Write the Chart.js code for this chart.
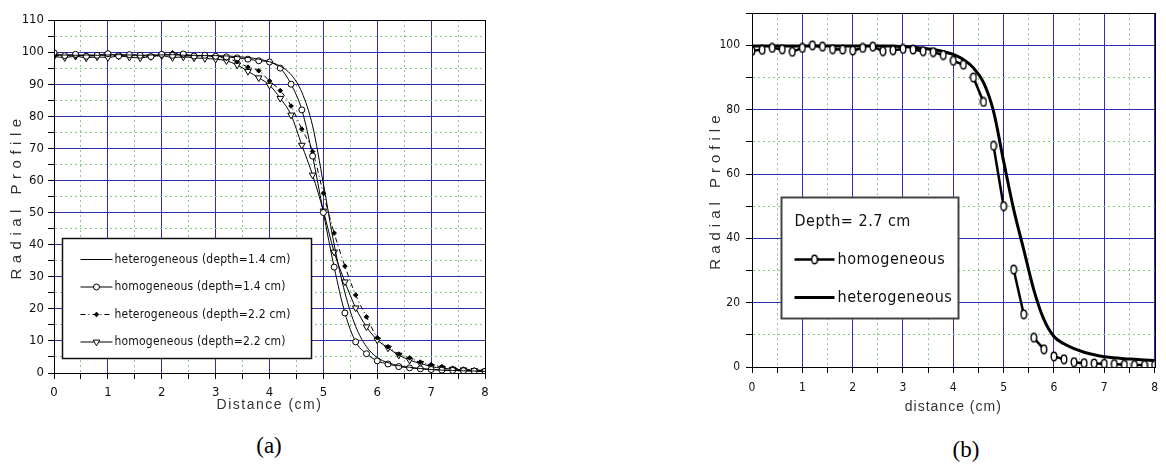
<!DOCTYPE html>
<html>
<head>
<meta charset="utf-8">
<script src="https://cdn.jsdelivr.net/npm/chart.js@4.4.1/dist/chart.umd.min.js"></script>
<style>
  html, body { margin: 0; padding: 0; background: #fff; }
  body { width: 1166px; height: 468px; position: relative; overflow: hidden; }
  .panel { position: absolute; top: 0; height: 420px; }
  #panelA { left: 0; width: 500px; }
  #panelB { left: 600px; width: 566px; }
  .caption {
    position: absolute; transform: translate(-50%, -50%);
    font-family: 'Liberation Serif', 'Times New Roman', serif; font-size: 23px; color: #000;
  }
</style>
</head>
<body>
<div class="panel" id="panelA"><canvas id="chartA"></canvas></div>
<div class="panel" id="panelB"><canvas id="chartB"></canvas></div>
<div class="caption" style="left:269px; top:446px">(a)</div>
<div class="caption" style="left:966px; top:450px">(b)</div>

<script>
/* ---------- data ---------- */

// distance (cm), sampling positions shared by every curve
const distance = [0, 0.2, 0.4, 0.6, 0.8, 1, 1.2, 1.4, 1.6, 1.8, 2, 2.2, 2.4, 2.6, 2.8, 3,
    3.2, 3.4, 3.6, 3.8, 4, 4.2, 4.4, 4.6, 4.8, 5, 5.2, 5.4, 5.6, 5.8, 6, 6.2, 6.4, 6.6, 6.8,
    7, 7.2, 7.4, 7.6, 7.8, 8];

// panel (a)
const labelsA = [
    'heterogeneous (depth=1.4 cm)',
    'homogeneous (depth=1.4 cm)',
    'heterogeneous (depth=2.2 cm)',
    'homogeneous (depth=2.2 cm)'
];
const hetero14 = [99.0, 99.1, 99.0, 99.1, 99.0, 99.1, 99.2, 99.1, 99.0, 99.1, 99.1, 99.2, 99.0, 99.0, 98.9, 98.9,
    98.8, 98.6, 98.3, 97.8, 97.0, 95.6, 93.0, 87.5, 77.0, 59.0, 40.0, 25.0, 14.5, 8.2, 4.8, 3.2, 2.3, 1.8, 1.4,
    1.1, 0.9, 0.8, 0.7, 0.6, 0.5];
const homo14 = [99.8, 98.9, 99.3, 98.7, 99.0, 99.5, 98.8, 99.2, 99.0, 98.6, 99.3, 99.0, 99.4, 98.8, 99.0, 98.7,
    98.5, 98.2, 97.8, 97.3, 96.9, 95.0, 90.0, 82.0, 67.6, 50.0, 33.0, 18.7, 9.7, 6.0, 3.8, 2.8, 2.0, 1.6, 1.3,
    1.1, 0.9, 0.8, 0.7, 0.6, 0.5];
const hetero22 = [98.8, 99.0, 98.7, 99.1, 98.9, 99.2, 98.8, 99.0, 99.1, 98.7, 99.0, 99.8, 98.9, 98.8, 98.9, 98.5,
    98.0, 97.0, 95.3, 94.2, 91.0, 88.0, 83.2, 76.0, 69.0, 56.0, 43.6, 33.3, 24.3, 17.5, 11.0, 8.2, 5.9, 4.7, 3.4,
    2.6, 2.0, 1.5, 1.2, 1.0, 0.8];
const homo22 = [98.6, 98.3, 98.7, 98.2, 98.5, 98.3, 98.8, 98.4, 98.2, 98.6, 98.9, 98.3, 98.5, 98.2, 98.0, 97.8,
    97.3, 96.0, 94.0, 92.0, 89.7, 85.6, 80.4, 71.0, 61.7, 50.5, 37.7, 28.4, 20.3, 14.4, 10.3, 7.8, 5.6, 4.0, 3.0,
    2.0, 1.5, 1.2, 1.0, 0.8, 0.6];

// panel (b)
const depthB = 'Depth= 2.7 cm';
const labelsB = ['homogeneous', 'heterogeneous'];
const homo27 = [98.3, 98.6, 99.2, 98.8, 98.0, 99.2, 100.0, 99.6, 98.8, 98.7, 98.4, 99.2, 99.6, 98.2, 98.5, 98.9,
    98.7, 98.2, 97.9, 97.0, 95.2, 94.0, 90.0, 82.4, 68.8, 50.0, 30.3, 16.4, 9.1, 5.5, 3.3, 2.4, 1.5, 1.2, 1.1,
    1.0, 0.9, 0.7, 0.6, 0.6, 0.6];
const hetero27 = [99.8, 99.8, 99.8, 99.8, 99.8, 99.8, 99.8, 99.8, 99.8, 99.8, 99.8, 99.8, 99.8, 99.8, 99.8,
    99.6, 99.4, 99.1, 98.7, 98.1, 97.2, 95.6, 93.0, 88.5, 79.5, 64.0, 49.0, 36.5, 24.0, 14.8, 9.5, 7.2, 5.7,
    4.6, 3.8, 3.2, 2.9, 2.6, 2.4, 2.2, 2.0];

/* ---------- styling helpers ---------- */

const BLUE = '#2c2cb4';
const GREEN = '#86c986';
const NARROW = "'Liberation Sans Narrow', 'Arial Narrow', 'DejaVu Sans Condensed', 'Liberation Sans', sans-serif";
const SANS = "'Liberation Sans', Arial, sans-serif";

const toPoints = ys => distance.map((x, i) => ({ x: x, y: ys[i] }));

// major grid lines are solid blue, minor ones green dotted
function gridFor(every) {
    const major = c => c.tick && Math.abs(c.tick.value / every - Math.round(c.tick.value / every)) < 1e-6;
    return {
        grid: {
            color: c => major(c) ? BLUE : GREEN,
            lineWidth: 1,
            tickColor: '#000',
            tickLength: 6
        },
        border: {
            color: '#000',
            width: 1,
            dash: c => major(c) ? [] : [2, 3]
        }
    };
}

// black frame around the plot area (top and right edges)
const frame = {
    id: 'frame',
    afterDraw(chart) {
        const { ctx, chartArea: a } = chart;
        ctx.save();
        ctx.strokeStyle = '#000';
        ctx.lineWidth = 1;
        ctx.strokeRect(Math.round(a.left) + 0.5, Math.round(a.top) + 0.5,
            Math.round(a.right - a.left), Math.round(a.bottom - a.top));
        ctx.restore();
    }
};

// letter spacing for the axis titles (canvas letterSpacing)
const spacedTitles = {
    id: 'spacedTitles',
    beforeDraw(chart, args, opts) {
        Object.values(chart.scales).forEach(scale => {
            if (scale._spaced) return;
            const draw = scale.drawTitle;
            scale.drawTitle = function () {
                this.ctx.save();
                this.ctx.letterSpacing = (opts[this.id] || 0) + 'px';
                draw.call(this);
                this.ctx.restore();
            };
            scale._spaced = true;
        });
    }
};

// boxed legend sitting inside the plot, placed in axis units
const boxLegend = {
    id: 'boxLegend',
    afterDraw(chart, args, o) {
        const { ctx, scales: { x, y } } = chart;
        const l = Math.round(x.getPixelForValue(o.x[0])) + 0.5;
        const r = Math.round(x.getPixelForValue(o.x[1])) + 0.5;
        const t = Math.round(y.getPixelForValue(o.y[0])) + 0.5;
        const b = Math.round(y.getPixelForValue(o.y[1])) + 0.5;
        ctx.save();
        ctx.fillStyle = '#fff';
        ctx.fillRect(l, t, r - l, b - t);
        ctx.strokeStyle = o.borderColor;
        ctx.lineWidth = o.borderWidth;
        ctx.strokeRect(l, t, r - l, b - t);

        ctx.font = o.size + 'px ' + o.family;
        ctx.letterSpacing = o.spacing + 'px';
        ctx.textBaseline = 'middle';
        let row = t + o.firstRow;
        if (o.title) {
            ctx.fillStyle = '#111';
            ctx.fillText(o.title, l + o.inset, row);
            row += o.rowGap;
        }
        const drawPoint = Chart.helpers && Chart.helpers.drawPoint;
        chart.data.datasets.forEach(ds => {
            const x0 = l + o.inset, x1 = x0 + o.sample;
            ctx.save();
            ctx.strokeStyle = ds.borderColor;
            ctx.lineWidth = ds.borderWidth;
            ctx.setLineDash(ds.borderDash || []);
            ctx.beginPath();
            ctx.moveTo(x0, row);
            ctx.lineTo(x1, row);
            ctx.stroke();
            ctx.restore();
            if (ds.pointRadius > 0 && drawPoint) {
                ctx.save();
                ctx.fillStyle = ds.pointBackgroundColor;
                ctx.strokeStyle = ds.pointBorderColor;
                ctx.lineWidth = ds.pointBorderWidth;
                drawPoint(ctx, {
                    pointStyle: ds.pointStyle,
                    rotation: ds.pointRotation || 0,
                    radius: ds.pointRadius,
                    borderWidth: ds.pointBorderWidth
                }, (x0 + x1) / 2, row);
                ctx.restore();
            }
            ctx.fillStyle = '#111';
            ctx.fillText(ds.label, x1 + o.gap, row);
            row += o.rowGap;
        });
        ctx.restore();
    }
};

// "0"-shaped open marker used in panel (b)
function ovalMarker() {
    const c = document.createElement('canvas');
    c.width = 8;
    c.height = 11;
    const g = c.getContext('2d');
    g.fillStyle = '#fff';
    g.strokeStyle = '#000';
    g.lineWidth = 1.4;
    g.beginPath();
    g.ellipse(4, 5.5, 2.8, 4.3, 0, 0, Math.PI * 2);
    g.fill();
    g.stroke();
    return c;
}

const tickFont = { family: NARROW, size: 13 };

/* ---------- panel (a) ---------- */

new Chart(document.getElementById('chartA'), {
    type: 'line',
    data: {
        datasets: [
            {
                label: labelsA[0], data: toPoints(hetero14),
                borderColor: '#000', borderWidth: 1, pointRadius: 0
            },
            {
                label: labelsA[1], data: toPoints(homo14),
                borderColor: '#000', borderWidth: 1,
                pointStyle: 'circle', pointRadius: 3,
                pointBackgroundColor: '#fff', pointBorderColor: '#000', pointBorderWidth: 1
            },
            {
                label: labelsA[2], data: toPoints(hetero22),
                borderColor: '#000', borderWidth: 1, borderDash: [5, 3, 1, 3],
                pointStyle: 'rectRot', pointRadius: 2.3,
                pointBackgroundColor: '#000', pointBorderColor: '#000', pointBorderWidth: 1
            },
            {
                label: labelsA[3], data: toPoints(homo22),
                borderColor: '#000', borderWidth: 1,
                pointStyle: 'triangle', pointRotation: 180, pointRadius: 3.8,
                pointBackgroundColor: '#fff', pointBorderColor: '#000', pointBorderWidth: 1
            }
        ]
    },
    options: {
        responsive: true,
        maintainAspectRatio: false,
        animation: false,
        cubicInterpolationMode: 'monotone',
        layout: { padding: { left: 0, top: 20, right: 15, bottom: 4 } },
        scales: {
            x: {
                type: 'linear', min: 0, max: 8,
                ...gridFor(1),
                ticks: {
                    stepSize: 0.5, autoSkip: false, maxRotation: 0, padding: 6,
                    color: '#111', font: tickFont,
                    callback: v => Number.isInteger(v) ? v : ''
                },
                title: {
                    display: true, text: 'Distance (cm)', color: '#333',
                    font: { family: SANS, size: 14 }, padding: { top: 0, bottom: 2 }
                },
                afterFit: s => { s.height = 43; }
            },
            y: {
                type: 'linear', min: 0, max: 110,
                ...gridFor(10),
                ticks: {
                    stepSize: 5, autoSkip: false, padding: 4,
                    color: '#111', font: tickFont,
                    callback: v => v % 10 === 0 ? v : ''
                },
                title: {
                    display: true, text: 'Radial Profile', color: '#333',
                    font: { family: SANS, size: 15 }, padding: { top: 8, bottom: 0 }
                },
                afterFit: s => { s.width = 54; }
            }
        },
        plugins: {
            legend: { display: false },
            tooltip: { enabled: false },
            spacedTitles: { x: 1.5, y: 5.5 },
            boxLegend: {
                x: [0.15, 4.77], y: [42, 4.7],
                borderColor: '#111', borderWidth: 1.5,
                family: NARROW, size: 12, spacing: 0.2,
                inset: 18, sample: 32, gap: 2, firstRow: 21, rowGap: 27.5
            }
        }
    },
    plugins: [spacedTitles, frame, boxLegend]
});

/* ---------- panel (b) ---------- */

new Chart(document.getElementById('chartB'), {
    type: 'line',
    data: {
        datasets: [
            {
                label: labelsB[0], data: toPoints(homo27),
                borderColor: '#000', borderWidth: 2.5,
                // the connecting line is only drawn between every other pair of points
                segment: { borderColor: c => c.p0DataIndex % 2 === 0 ? '#000' : 'rgba(0,0,0,0)' },
                pointStyle: ovalMarker(), pointRadius: 4,
                pointBackgroundColor: '#fff', pointBorderColor: '#000', pointBorderWidth: 1.4
            },
            {
                label: labelsB[1], data: toPoints(hetero27),
                borderColor: '#000', borderWidth: 3, pointRadius: 0,
                cubicInterpolationMode: 'monotone'
            }
        ]
    },
    options: {
        responsive: true,
        maintainAspectRatio: false,
        animation: false,
        layout: { padding: { left: 100, top: 4, right: 3, bottom: 4 } },
        scales: {
            x: {
                type: 'linear', min: 0, max: 8,
                ...gridFor(1),
                ticks: {
                    stepSize: 0.5, autoSkip: false, maxRotation: 0, padding: 8,
                    color: '#111', font: { family: NARROW, size: 12 },
                    callback: v => Number.isInteger(v) ? v : ''
                },
                title: {
                    display: true, text: 'distance (cm)', color: '#333',
                    font: { family: SANS, size: 14 }, padding: { top: 0, bottom: 0 }
                },
                afterFit: s => { s.height = 49; }
            },
            y: {
                type: 'linear', min: 0, max: 110,
                ...gridFor(20),
                ticks: {
                    stepSize: 10, autoSkip: false, padding: 6,
                    color: '#111', font: { family: NARROW, size: 12 },
                    callback: v => v % 20 === 0 ? v : ''
                },
                title: {
                    display: true, text: 'Radial Profile', color: '#333',
                    font: { family: SANS, size: 15 }, padding: { top: 7, bottom: 0 }
                },
                afterFit: s => { s.width = 52; }
            }
        },
        plugins: {
            legend: { display: false },
            tooltip: { enabled: false },
            spacedTitles: { x: 1, y: 5 },
            boxLegend: {
                x: [0.58, 4.09], y: [52.7, 15.2],
                borderColor: '#444', borderWidth: 2,
                title: depthB,
                family: NARROW, size: 16, spacing: 0.5,
                inset: 13, sample: 40, gap: 3, firstRow: 24, rowGap: 38
            }
        }
    },
    plugins: [spacedTitles, frame, boxLegend]
});
</script>
</body>
</html>
